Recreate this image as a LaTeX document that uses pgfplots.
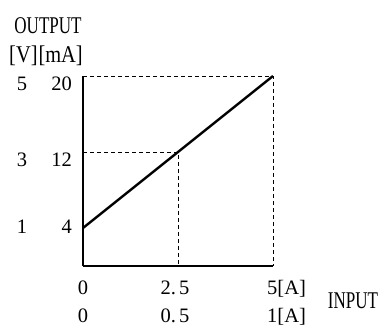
\documentclass[border=0pt]{standalone}
\usepackage{pgfplots}
\pgfplotsset{compat=1.18}
\usepackage{fontspec}
\setmainfont{Liberation Serif}
\newfontfamily\cond{Liberation Serif}[FakeStretch=0.71]
\newfontfamily\condb{Liberation Serif}[FakeStretch=0.85]
\begin{document}
\begin{tikzpicture}[x=1bp,y=1bp]
\useasboundingbox (0,0) rectangle (387,327);
\begin{axis}[
  at={(83bp,61bp)}, anchor=south west,
  scale only axis, width=190bp, height=190bp,
  xmin=0, xmax=5, ymin=0, ymax=20,
  axis x line*=bottom, axis y line*=left,
  axis line style={line width=1.1bp, black},
  xtick=\empty, ytick=\empty,
  clip=false,
]
\addplot[black, line width=0.9bp, dash pattern=on 4bp off 3bp] coordinates {(0,20) (5,20) (5,0)};
\addplot[black, line width=0.9bp, dash pattern=on 4bp off 3bp] coordinates {(0,12) (2.5,12) (2.5,0)};
\addplot[black, line width=2.4bp] coordinates {(0,4) (5,20)};
\end{axis}
\tikzset{lab/.style={inner sep=0pt, font=\fontsize{20.5bp}{24bp}\selectfont}}
\node[inner sep=0pt, anchor=base, font=\fontsize{24bp}{28bp}\cond] at (48,294) {OUTPUT};
\node[inner sep=0pt, anchor=base, font=\fontsize{24bp}{28bp}\condb] at (46,265) {[V]\hspace{1bp}[mA]};
\node[lab, anchor=base] at (22,237) {5};
\node[lab, anchor=base east] at (72,237) {20};
\node[lab, anchor=base] at (22,161) {3};
\node[lab, anchor=base east] at (72,161) {12};
\node[lab, anchor=base] at (22,94) {1};
\node[lab, anchor=base east] at (72,94) {4};
\node[lab, anchor=base] at (83,33) {0};
\node[lab, anchor=base] at (175,33) {2.\hspace{3bp}5};
\node[lab, anchor=base west] at (267,33) {5[A]};
\node[lab, anchor=base] at (83,5) {0};
\node[lab, anchor=base] at (175,5) {0.\hspace{3bp}5};
\node[lab, anchor=base west] at (267,5) {1[A]};
\node[inner sep=0pt, anchor=base, font=\fontsize{24bp}{28bp}\cond] at (353,19) {INPUT};
\end{tikzpicture}
\end{document}
